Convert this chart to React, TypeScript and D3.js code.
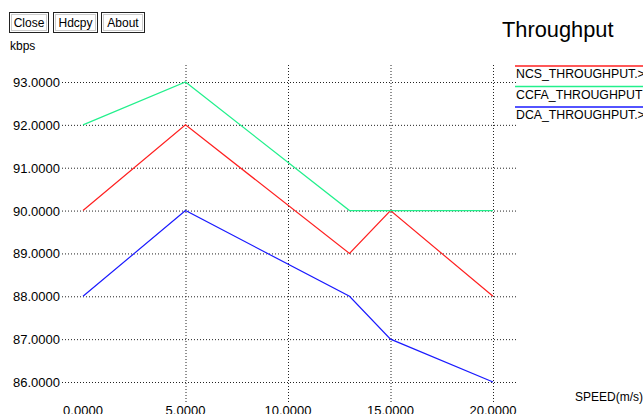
import React from "react";
import * as d3 from "d3";

const speeds = [0, 5, 13, 15, 20];
const ncs = [90, 92, 89, 90, 88];
const ccfa = [92, 93, 90, 90, 90];
const dca = [88, 90, 88, 87, 86];
const seriesNames = ["NCS_THROUGHPUT.>", "CCFA_THROUGHPUT", "DCA_THROUGHPUT.>"];
const seriesColors = ["#ff2020", "#22f08c", "#1a1aff"];
const xTicks = [0, 5, 10, 15, 20];
const yTicks = [86, 87, 88, 89, 90, 91, 92, 93];
const buttons = ["Close", "Hdcpy", "About"];

const W = 643, H = 414;
const font = "Arial, 'Liberation Sans', sans-serif";

export default function App() {
  const x = d3.scaleLinear().domain([0, 20]).range([83, 493]);
  const y = d3.scaleLinear().domain([86, 93]).range([382, 82]);
  const line = d3.line<number>().x((_, i) => x(speeds[i])).y((d) => y(d));
  const all = [ncs, ccfa, dca];
  const btnX = [9, 53, 101];
  const btnW = [39, 44, 43];
  return (
    <svg width={W} height={H} style={{ position: "fixed", left: 0, top: 0, background: "#fff" }} fontFamily={font}>
      <rect width={W} height={H} fill="#fff" />
      {buttons.map((b, i) => (
        <g key={b}>
          <rect x={btnX[i] + 0.5} y={12.5} width={btnW[i]} height={20} fill="#fff" stroke="#222" />
          <rect x={btnX[i] + 2.5} y={14.5} width={btnW[i] - 4} height={16} fill="none" stroke="#ccc" />
          <text x={btnX[i] + btnW[i] / 2 + 0.5} y={27} fontSize={12} textAnchor="middle" fill="#000">{b}</text>
        </g>
      ))}
      <text x={10} y={50} fontSize={12} fill="#000">kbps</text>
      <text x={502} y={37} fontSize={21.8} fill="#000">Throughput</text>
      {yTicks.map((t) => (
        <g key={t}>
          <line x1={62} x2={516} y1={y(t) + 0.5} y2={y(t) + 0.5} stroke="#222" strokeDasharray="1 2" />
          <text x={60} y={y(t) + 5} fontSize={13} textAnchor="end" fill="#000">{t.toFixed(4)}</text>
        </g>
      ))}
      {xTicks.map((t) => (
        <g key={t}>
          {t > 0 && (
            <line x1={x(t) + 0.5} x2={x(t) + 0.5} y1={65} y2={402} stroke="#222" strokeDasharray="1 2" />
          )}
          <text x={x(t)} y={415} fontSize={13} textAnchor="middle" fill="#000">{t.toFixed(4)}</text>
        </g>
      ))}
      {all.map((s, i) => (
        <path key={i} d={line(s) || ""} fill="none" stroke={seriesColors[i]} strokeWidth={1.2} />
      ))}
      {seriesNames.map((n, i) => (
        <g key={n}>
          <line x1={515} x2={643} y1={66 + i * 20.5} y2={66 + i * 20.5} stroke={seriesColors[i]} strokeWidth={1.5} />
          <text x={516} y={78 + i * 20.5} fontSize={12.3} fill="#000">{n}</text>
        </g>
      ))}
      <text x={575} y={401} fontSize={12} fill="#000">SPEED(m/s)</text>
    </svg>
  );
}
